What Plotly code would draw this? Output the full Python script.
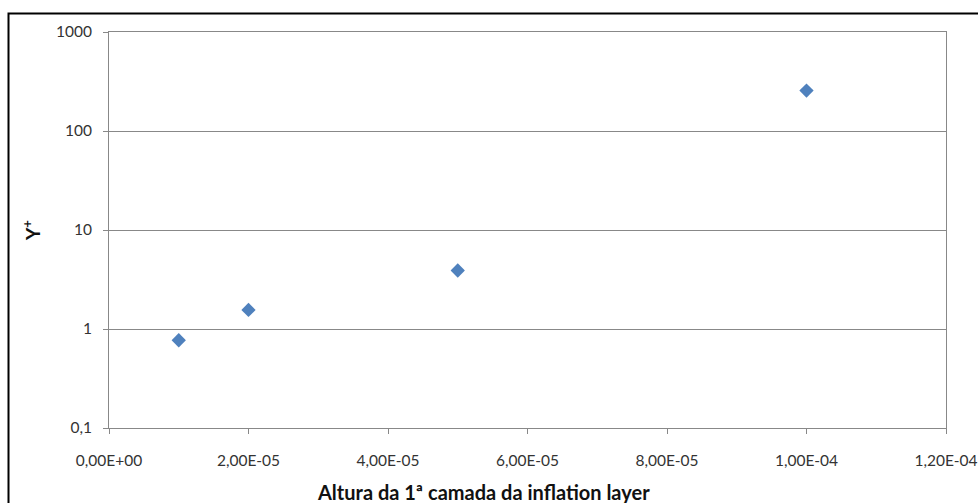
import plotly.graph_objects as go

# First inflation-layer height (m) and resulting Y+
altura = [1e-5, 2e-5, 5e-5, 1e-4]
y_plus = [0.77, 1.56, 3.9, 256]

x_tickvals = [0, 2e-5, 4e-5, 6e-5, 8e-5, 1e-4, 1.2e-4]
x_ticktext = ["0,00E+00", "2,00E-05", "4,00E-05", "6,00E-05", "8,00E-05", "1,00E-04", "1,20E-04"]
y_tickvals = [0.1, 1, 10, 100, 1000]
y_ticktext = ["0,1", "1", "10", "100", "1000"]

FONT = "Lato"
GRID = "#888888"
W, H = 978, 503
L, R, T, B = 109, 32, 32, 75
pw, ph = W - L - R, H - T - B


def px_x(px):
    return (px - L) / pw


def px_y(py):
    return (H - B - py) / ph


fig = go.Figure(
    go.Scatter(
        x=altura,
        y=y_plus,
        mode="markers",
        marker=dict(symbol="diamond", size=11, color="#4F81BD"),
        showlegend=False,
    )
)

fig.update_layout(
    width=W,
    height=H,
    margin=dict(l=L, r=R, t=T, b=B, autoexpand=False),
    paper_bgcolor="white",
    plot_bgcolor="white",
    font=dict(family=FONT, size=15.5, color="#333333"),
    xaxis=dict(
        range=[0, 1.2e-4],
        tickvals=x_tickvals,
        ticktext=x_ticktext,
        automargin=False,
        showgrid=False,
        zeroline=False,
        showline=True,
        linecolor=GRID,
        linewidth=1,
        mirror=True,
        ticks="outside",
        ticklen=5,
        tickcolor=GRID,
        ticklabelstandoff=13,
    ),
    yaxis=dict(
        type="log",
        range=[-1, 3],
        tickvals=y_tickvals,
        ticktext=y_ticktext,
        automargin=False,
        showgrid=True,
        gridcolor=GRID,
        gridwidth=1,
        zeroline=False,
        showline=True,
        linecolor=GRID,
        linewidth=1,
        mirror=True,
        ticks="outside",
        ticklen=5,
        tickcolor=GRID,
        ticklabelstandoff=8,
    ),
    annotations=[
        dict(
            text="<b>Altura da 1ª camada da inflation layer</b>",
            xref="paper", yref="paper",
            x=px_x(483), y=px_y(492),
            xanchor="center", yanchor="middle",
            showarrow=False,
            font=dict(family=FONT, size=20, color="#111111"),
        ),
        dict(
            text="<b>Y<sup>+</sup></b>",
            xref="paper", yref="paper",
            x=px_x(31), y=px_y(231),
            xanchor="center", yanchor="middle",
            textangle=-90,
            showarrow=False,
            font=dict(family=FONT, size=19, color="#111111"),
        ),
    ],
    shapes=[
        dict(
            type="rect",
            xref="paper", yref="paper",
            x0=px_x(8.5), x1=px_x(990),
            y0=px_y(520), y1=px_y(13.5),
            line=dict(color="black", width=2),
            fillcolor="rgba(0,0,0,0)",
            layer="above",
        )
    ],
)

fig.write_html("out.html")
